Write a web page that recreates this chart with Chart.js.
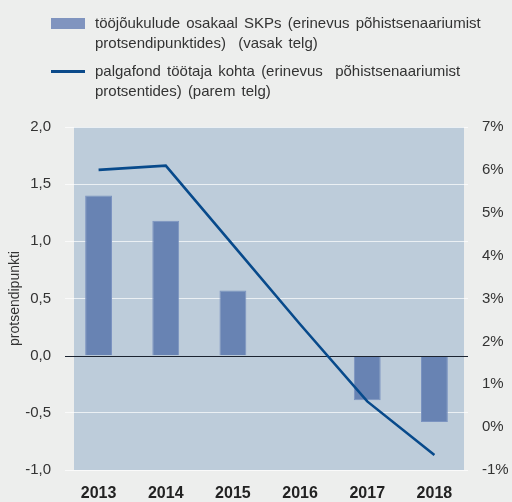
<!DOCTYPE html>
<html>
<head>
<meta charset="utf-8">
<script src="https://cdn.jsdelivr.net/npm/chart.js@4"></script>
<style>
  html, body { margin: 0; padding: 0; background: #edeeed; }
  #wrap { position: relative; width: 512px; height: 502px; }
  #chart { position: absolute; left: 0; top: 0; }
  .legend { font-family: "Liberation Sans", Arial, sans-serif; font-size: 15px; color: #333; word-spacing: 2px; }
  .item { position: absolute; left: 95px; line-height: 20px; white-space: nowrap; }
  .swatch { position: absolute; left: 51px; width: 34px; }
</style>
</head>
<body>
<div id="wrap">
  <canvas id="chart" width="512" height="502"></canvas>
  <div class="legend">
    <div class="swatch" style="top:18px;height:11px;background:#8094bf"></div>
    <div class="item" style="top:13px">tööjõukulude osakaal SKPs (erinevus põhistsenaariumist<br>protsendipunktides)&nbsp; (vasak telg)</div>
    <div class="swatch" style="top:70px;height:3px;background:#0b4a8a"></div>
    <div class="item" style="top:61px">palgafond töötaja kohta (erinevus&nbsp; põhistsenaariumist<br>protsentides) (parem telg)</div>
  </div>
</div>
<script>
const years = ['2013', '2014', '2015', '2016', '2017', '2018'];
// tööjõukulude osakaal SKPs, protsendipunktides (vasak telg)
const laborShare = [1.40, 1.18, 0.57, -0.01, -0.39, -0.58];
// palgafond töötaja kohta, protsentides (parem telg)
const wageFund = [6.0, 6.1, 4.25, 2.4, 0.6, -0.65];
const leftMin = -1, leftMax = 2, leftStep = 0.5;
const rightMin = -1, rightMax = 7, rightStep = 1;

Chart.defaults.font.family = '"Liberation Sans", Arial, sans-serif';
Chart.defaults.color = '#333';

const plotBg = {
  id: 'plotBg',
  beforeDraw(chart) {
    const { ctx, chartArea: a } = chart;
    ctx.save();
    ctx.fillStyle = '#bdccda';
    ctx.fillRect(a.left + 9, a.top, a.right - a.left - 13, a.bottom - a.top);
    ctx.restore();
  }
};

const zeroLine = {
  id: 'zeroLine',
  afterDatasetDraw(chart, args) {
    if (args.meta.type !== 'bar') return;
    const { ctx, chartArea: a } = chart;
    const y = Math.round(chart.scales.y.getPixelForValue(0)) + 0.5;
    ctx.save();
    ctx.strokeStyle = '#1b2330';
    ctx.lineWidth = 1;
    ctx.beginPath();
    ctx.moveTo(a.left, y);
    ctx.lineTo(a.right, y);
    ctx.stroke();
    ctx.restore();
  }
};

new Chart(document.getElementById('chart'), {
  data: {
    labels: years,
    datasets: [
      {
        type: 'line',
        label: 'palgafond töötaja kohta',
        data: wageFund,
        yAxisID: 'y1',
        borderColor: '#084a8b',
        borderWidth: 2.6,
        pointRadius: 0,
        tension: 0,
        order: 0
      },
      {
        type: 'bar',
        label: 'tööjõukulude osakaal SKPs',
        data: laborShare,
        yAxisID: 'y',
        backgroundColor: '#6883b3',
        borderColor: '#7b93c0',
        borderWidth: 1,
        categoryPercentage: 1,
        barPercentage: 0.4,
        order: 1
      }
    ]
  },
  plugins: [plotBg, zeroLine],
  options: {
    responsive: false,
    animation: false,
    layout: { padding: { top: 127, left: 0, right: 0, bottom: 0 } },
    plugins: { legend: { display: false }, tooltip: { enabled: false } },
    scales: {
      x: {
        offset: true,
        grid: { display: false, drawTicks: false },
        border: { display: false },
        ticks: { color: '#222', font: { size: 16, weight: 'bold' }, padding: 14 },
        afterFit(scale) { scale.height = 32; }
      },
      y: {
        position: 'left',
        min: leftMin,
        max: leftMax,
        border: { display: false },
        grid: {
          drawTicks: false,
          lineWidth: 1,
          color: (c) => (c.tick && c.tick.value === 0 ? 'rgba(0,0,0,0)' : 'rgba(255,255,255,0.7)')
        },
        ticks: {
          stepSize: leftStep,
          padding: 14,
          font: { size: 15 },
          callback: (v) => Number(v).toFixed(1).replace('.', ',')
        },
        title: {
          display: true,
          text: 'protsendipunkti',
          font: { size: 14 },
          padding: { top: 7, bottom: 0 }
        },
        afterFit(scale) { scale.width = 65; }
      },
      y1: {
        position: 'right',
        min: rightMin,
        max: rightMax,
        border: { display: false },
        grid: { display: false, drawOnChartArea: false, drawTicks: false },
        ticks: {
          stepSize: rightStep,
          padding: 14,
          font: { size: 15 },
          callback: (v) => v + '%'
        },
        afterFit(scale) { scale.width = 44; }
      }
    }
  }
});
</script>
</body>
</html>
